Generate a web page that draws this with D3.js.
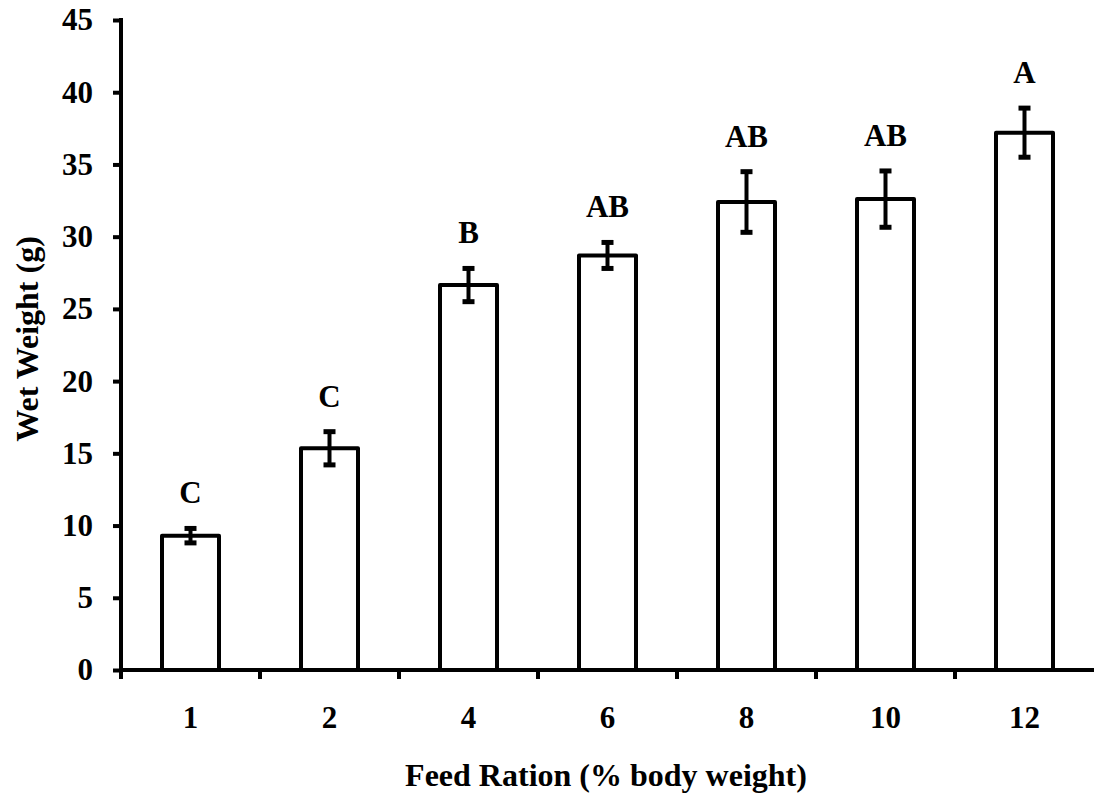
<!DOCTYPE html>
<html><head><meta charset="utf-8">
<script src="https://cdn.jsdelivr.net/npm/d3@7"></script>
<style>body{margin:0;background:#fff}svg{display:block}text{font-family:"Liberation Serif","Times New Roman",serif;font-weight:bold;fill:#000}</style>
</head><body>
<svg id="c" width="1094" height="795"></svg>
<script>
const categories = ["1","2","4","6","8","10","12"];
const means = [9.3, 15.35, 26.65, 28.7, 32.4, 32.6, 37.2];
const errors = [0.5, 1.15, 1.15, 0.9, 2.1, 1.95, 1.7];
const letters = ["C","C","B","AB","AB","AB","A"];
const yTicks = [0,5,10,15,20,25,30,35,40,45];

(function(){
const svg = d3.select("#c");
const mL = 121, mR = 1094, mT = 20, mB = 670;
const x = d3.scaleBand().domain(categories).range([mL, mR]).padding(0);
const y = d3.scaleLinear().domain([0,45]).range([mB, mT]);
const bw = 57;

// y axis
const ya = svg.append("g").attr("transform",`translate(${mL},0)`)
  .call(d3.axisLeft(y).tickValues(yTicks).tickSize(8).tickPadding(20));
ya.select(".domain").remove();
ya.selectAll(".tick line").attr("stroke","#000").attr("stroke-width",4);
ya.selectAll(".tick text").style("font-size","31px");
svg.append("line").attr("x1",mL).attr("x2",mL).attr("y1",mT-2).attr("y2",mB+2)
  .attr("stroke","#000").attr("stroke-width",4);

// x ticks and labels
const boundaries = categories.map(c => x(c));
svg.selectAll(".xt").data(boundaries).enter().append("line")
  .attr("x1",d=>d).attr("x2",d=>d).attr("y1",mB).attr("y2",mB+9)
  .attr("stroke","#000").attr("stroke-width",4);
svg.selectAll(".xl").data(categories).enter().append("text")
  .attr("x",d=>x(d)+x.bandwidth()/2).attr("y",728)
  .attr("text-anchor","middle").style("font-size","31px").text(d=>d);

// bars
const g = svg.append("g");
categories.forEach((c,i)=>{
  const cx = x(c)+x.bandwidth()/2;
  g.append("rect").attr("x",cx-bw/2).attr("y",y(means[i])).attr("width",bw)
    .attr("height",mB-y(means[i])).attr("fill","#fff").attr("stroke","#000")
    .attr("stroke-width",4).attr("stroke-linejoin","round");
  const t = y(means[i]+errors[i]), b = y(means[i]-errors[i]);
  g.append("line").attr("x1",cx).attr("x2",cx).attr("y1",t).attr("y2",b).attr("stroke","#000").attr("stroke-width",4);
  [t,b].forEach(yy=>g.append("line").attr("x1",cx-6).attr("x2",cx+6).attr("y1",yy).attr("y2",yy).attr("stroke","#000").attr("stroke-width",5));
  g.append("text").attr("x",cx).attr("y",t-25).attr("text-anchor","middle")
    .style("font-size","31px").text(letters[i]);
});
// x axis line
svg.append("line").attr("x1",mL-2).attr("x2",mR).attr("y1",mB).attr("y2",mB)
  .attr("stroke","#000").attr("stroke-width",4);

// titles
svg.append("text").attr("x",606).attr("y",786).attr("text-anchor","middle")
  .style("font-size","32px").text("Feed Ration (% body weight)");
svg.append("text").attr("transform","translate(38,339) rotate(-90)").attr("text-anchor","middle")
  .style("font-size","32px").text("Wet Weight (g)");
})();
</script>
</body></html>
